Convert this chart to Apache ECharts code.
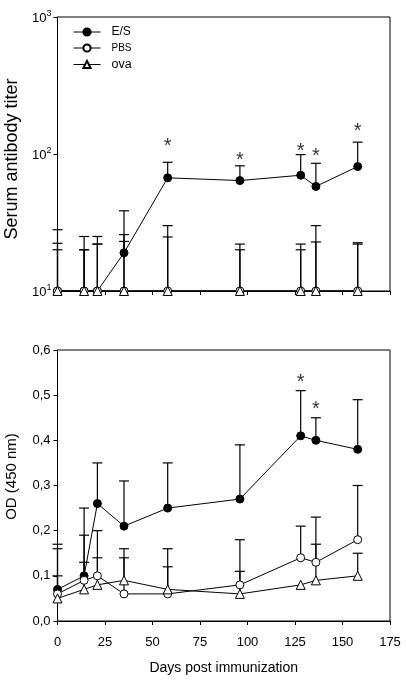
<!DOCTYPE html>
<html><head><meta charset="utf-8">
<script src="https://cdn.jsdelivr.net/npm/echarts@6/dist/echarts.min.js"></script>
<style>html,body{margin:0;padding:0;background:#fff}#c{width:406px;height:688px}</style>
</head><body><div id="c"></div>
<script>
// ---- data ----
const days = [0, 14, 21, 35, 58, 96, 128, 136, 158];
const seriesNames = ['E/S', 'PBS', 'ova'];
const xTicks = [0, 25, 50, 75, 100, 125, 150, 175];

// top panel: serum antibody titer (log scale)
const titerES    = [10, 10, 10, 19, 67, 64, 70, 58, 81];
const titerESUp  = [28, 25, 25, 38.5, 87, 82, 99, 85.5, 122];
const titerPBS   = [10, 10, 10, 10, 10, 10, 10, 10, 10];
const titerPBSUp = [22.3, 20, 22, 25.8, 30, 22, 22, 30, 22.5];
const titerOva   = [10, 10, 10, 10, 10, 10, 10, 10, 10];
const titerOvaUp = [20, 20, 22, 23, 24.8, 20, 20, 22.8, 22];
const titerStarDays = [58, 96, 128, 136, 158];
const titerStarVals = [123, 97, 114, 104, 160];

// bottom panel: OD (450 nm)
const odES    = [0.07, 0.10, 0.26, 0.21, 0.25, 0.27, 0.41, 0.40, 0.38];
const odESUp  = [0.17, 0.25, 0.35, 0.31, 0.35, 0.39, 0.51, 0.45, 0.49];
const odPBS   = [0.06, 0.09, 0.10, 0.06, 0.06, 0.08, 0.14, 0.13, 0.18];
const odPBSUp = [0.16, 0.19, 0.20, 0.14, 0.12, 0.18, 0.21, 0.23, 0.30];
const odOva   = [0.05, 0.07, 0.08, 0.09, 0.07, 0.06, 0.08, 0.09, 0.10];
const odOvaUp = [0.10, 0.13, 0.14, 0.16, 0.16, 0.11, null, 0.17, 0.15];
const odStarDays = [128, 136];
const odStarVals = [0.54, 0.48];

// ---- chart ----
const F = '"Liberation Sans", Arial, sans-serif';
const chart = echarts.init(document.getElementById('c'), null, {renderer: 'canvas'});

function errBars(ai, means, ups) {
  return {
    type: 'custom', xAxisIndex: ai, yAxisIndex: ai, silent: true, z: 1,
    data: days.map((d, i) => [d, means[i], ups[i]]).filter(r => r[2] != null),
    renderItem: (params, api) => {
      const x = api.value(0), m = api.value(1), u = api.value(2);
      const p0 = api.coord([x, m]), p1 = api.coord([x, u]);
      const st = {stroke: '#000', lineWidth: 1.2};
      return {type: 'group', children: [
        {type: 'line', shape: {x1: p0[0], y1: p0[1], x2: p1[0], y2: p1[1]}, style: st},
        {type: 'line', shape: {x1: p1[0] - 5, y1: p1[1], x2: p1[0] + 5, y2: p1[1]}, style: st}
      ]};
    }
  };
}
const sty = {
  'E/S': {symbol: 'circle', symbolSize: 8, itemStyle: {color: '#000', borderColor: '#000', borderWidth: 1}},
  'PBS': {symbol: 'circle', symbolSize: 8, itemStyle: {color: '#fff', borderColor: '#000', borderWidth: 1}},
  'ova': {symbol: 'triangle', symbolSize: 9, itemStyle: {color: '#fff', borderColor: '#000', borderWidth: 1}}
};
function line(ai, name, vals) {
  return Object.assign({
    type: 'line', name, xAxisIndex: ai, yAxisIndex: ai, z: 3,
    data: days.map((d, i) => [d, vals[i]]),
    lineStyle: {color: '#000', width: 1}, showAllSymbol: true, animation: false
  }, sty[name]);
}
function stars(ai, xs, vs) {
  return {
    type: 'scatter', xAxisIndex: ai, yAxisIndex: ai, silent: true, z: 4,
    data: xs.map((d, i) => [d, vs[i]]), symbolSize: 1, itemStyle: {color: 'rgba(0,0,0,0)'},
    label: {show: true, position: 'inside', formatter: '*', color: '#000', fontSize: 20, fontFamily: F, offset: [0, 5]}
  };
}
const axisCommon = {
  axisLine: {show: true, lineStyle: {color: '#000', width: 1}},
  axisTick: {show: true, inside: false, length: 4, lineStyle: {color: '#000'}},
  splitLine: {show: false},
  axisLabel: {color: '#000', fontFamily: F, fontSize: 13},
  nameTextStyle: {color: '#000', fontFamily: F, fontSize: 14}
};

const option = {
  backgroundColor: '#fff',
  animation: false,
  grid: [
    {left: 57.5, top: 17, width: 332.5, height: 274, show: true, borderColor: '#000', borderWidth: 1,
     backgroundColor: 'transparent', containLabel: false, outerBoundsMode: 'none'},
    {left: 57.5, top: 350, width: 332.5, height: 271, show: true, borderColor: '#000', borderWidth: 1,
     backgroundColor: 'transparent', containLabel: false, outerBoundsMode: 'none'}
  ],
  legend: {
    data: seriesNames, orient: 'vertical', left: 73, top: 26, itemGap: 5, padding: 0,
    itemWidth: 27, itemHeight: 9, selectedMode: false,
    lineStyle: {width: 1, color: '#000'},
    formatter: n => n === 'PBS' ? '{s|PBS}' : (n === 'ova' ? '{o|ova}' : '{b|' + n + '}'),
    textStyle: {color: '#000', fontFamily: F, fontSize: 12,
      rich: {s: {fontSize: 10, fontFamily: F, color: '#000', padding: [0, 0, 0, 6]},
             b: {fontSize: 12, fontFamily: F, color: '#000', padding: [0, 0, 0, 6]},
             o: {fontSize: 12.5, fontFamily: F, color: '#000', padding: [0, 0, 0, 6]}}}
  },
  xAxis: [
    Object.assign({}, axisCommon, {type: 'value', gridIndex: 0, min: xTicks[0], max: xTicks[xTicks.length - 1], interval: 25,
      axisLabel: {show: false}}),
    Object.assign({}, axisCommon, {type: 'value', gridIndex: 1, min: xTicks[0], max: xTicks[xTicks.length - 1], interval: 25,
      axisLabel: Object.assign({}, axisCommon.axisLabel, {margin: 15}),
      name: 'Days post immunization', nameLocation: 'middle', nameGap: 40})
  ],
  yAxis: [
    Object.assign({}, axisCommon, {type: 'log', logBase: 10, gridIndex: 0, min: 10, max: 1000,
      axisLabel: Object.assign({}, axisCommon.axisLabel, {margin: 6,
        formatter: v => '{b|10}{s|' + Math.round(Math.log10(v)) + '}',
        rich: {b: {fontSize: 13, fontFamily: F, color: '#000', verticalAlign: 'bottom', lineHeight: 16},
               s: {fontSize: 9, fontFamily: F, color: '#000', verticalAlign: 'top', lineHeight: 16, padding: [0, 0, 6, 0]}}}),
      name: 'Serum antibody titer', nameLocation: 'middle', nameGap: 34,
      nameTextStyle: {color: '#000', fontFamily: F, fontSize: 18, padding: [0, 10, 0, 0]}}),
    Object.assign({}, axisCommon, {type: 'value', gridIndex: 1, min: 0, max: 0.6, interval: 0.1,
      axisLabel: Object.assign({}, axisCommon.axisLabel, {margin: 7, formatter: v => v.toFixed(1).replace('.', ',')}),
      name: 'OD (450 nm)', nameLocation: 'middle', nameGap: 38,
      nameTextStyle: {color: '#000', fontFamily: F, fontSize: 15, padding: [0, 0, 0, 18]}})
  ],
  series: [
    errBars(0, titerES, titerESUp), errBars(0, titerPBS, titerPBSUp), errBars(0, titerOva, titerOvaUp),
    line(0, 'E/S', titerES), line(0, 'PBS', titerPBS), line(0, 'ova', titerOva),
    stars(0, titerStarDays, titerStarVals),
    errBars(1, odES, odESUp), errBars(1, odPBS, odPBSUp), errBars(1, odOva, odOvaUp),
    line(1, 'E/S', odES), line(1, 'PBS', odPBS), line(1, 'ova', odOva),
    stars(1, odStarDays, odStarVals)
  ]
};
chart.setOption(option);
</script></body></html>
